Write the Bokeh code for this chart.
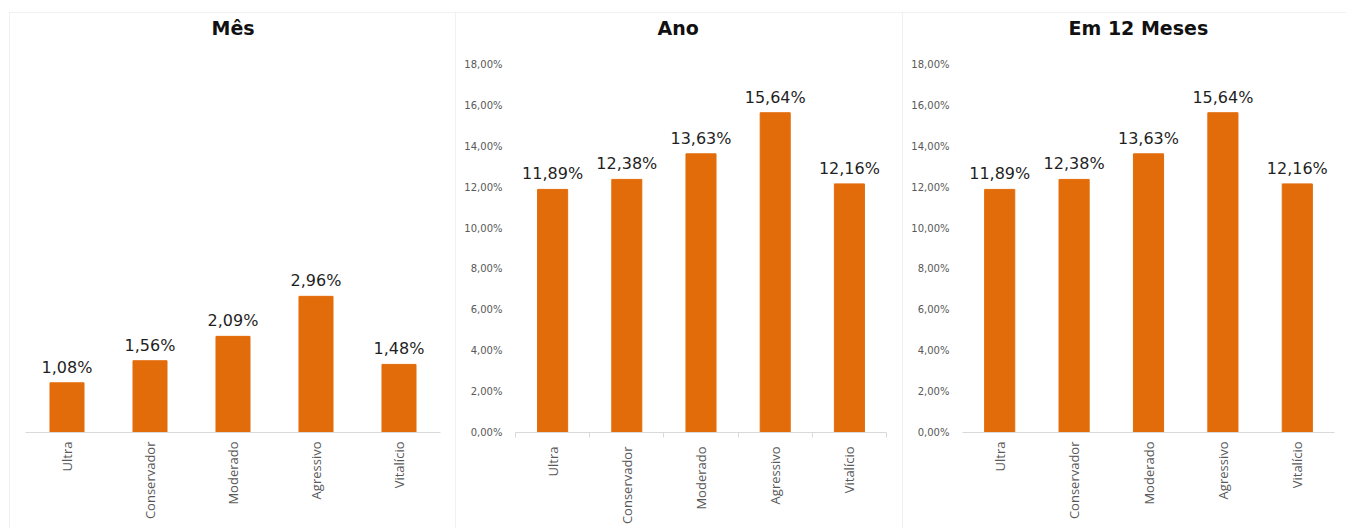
import math
from bokeh.plotting import figure
from bokeh.models import Range1d, FixedTicker, ColumnDataSource, Title, Spacer
from bokeh.layouts import row, column
from bokeh.core.properties import value
from bokeh.embed import file_html
from bokeh.resources import INLINE

categories = ["Ultra", "Conservador", "Moderado", "Agressivo", "Vitalício"]
mes_values = [1.08, 1.56, 2.09, 2.96, 1.48]
ano_values = [11.89, 12.38, 13.63, 15.64, 12.16]
doze_values = [11.89, 12.38, 13.63, 15.64, 12.16]
y_ticks = [0, 2, 4, 6, 8, 10, 12, 14, 16, 18]
y_tick_labels = ["0,00%", "2,00%", "4,00%", "6,00%", "8,00%", "10,00%",
                 "12,00%", "14,00%", "16,00%", "18,00%"]
titles = ["Mês", "Ano", "Em 12 Meses"]

ORANGE = "#E36C0A"
FONT = "Open Sans"


def fmt(v):
    return f"{v:.2f}".replace(".", ",") + "%"


def make(title, values, ymax, show_y, sep_ticks, width, left, right, bar_w, title_offset):
    p = figure(width=width, height=516, x_range=Range1d(0, len(categories)),
               y_range=Range1d(0, ymax), output_backend="svg", toolbar_location=None,
               title=None,
               min_border_left=left, min_border_right=right, min_border_top=52,
               min_border_bottom=96)
    xs = [i + 0.5 for i in range(len(categories))]
    src = ColumnDataSource(dict(x=xs, top=values, label=[fmt(v) for v in values]))
    p.vbar(x="x", top="top", width=bar_w, source=src, color=ORANGE)
    p.text(x="x", y="top", text="label", source=src, text_align="center",
           text_baseline="bottom", y_offset=-6, text_font=value("DejaVu Sans"),
           text_font_size="16px", text_color="#1f1f1f")

    # spacer title (nearest the frame) then the real title above it
    p.add_layout(Title(text=" ", text_font_size="1px", standoff=21), "above")
    p.add_layout(Title(text=title, align="left", offset=title_offset, standoff=4,
                       text_font="DejaVu Sans", text_font_size="19px",
                       text_font_style="bold", text_color="#111111"), "above")

    xa = p.xaxis[0]
    xa.ticker = FixedTicker(ticks=xs, minor_ticks=(list(range(len(categories) + 1)) if sep_ticks else []))
    xa.major_label_overrides = {x: c for x, c in zip(xs, categories)}
    xa.major_tick_out = 0
    xa.major_tick_in = 0
    xa.minor_tick_in = 0
    xa.minor_tick_out = 5 if sep_ticks else 0
    xa.minor_tick_line_color = "#d9d9d9"
    xa.axis_line_color = "#d9d9d9"
    xa.major_label_orientation = math.pi / 2
    xa.major_label_standoff = 9
    xa.major_label_text_font = FONT
    xa.major_label_text_font_size = "13px"
    xa.major_label_text_color = "#595959"

    ya = p.yaxis[0]
    if show_y:
        ya.ticker = FixedTicker(ticks=y_ticks, minor_ticks=[])
        ya.major_label_overrides = {t: l for t, l in zip(y_ticks, y_tick_labels)}
        ya.axis_line_color = None
        ya.major_tick_line_color = None
        ya.minor_tick_line_color = None
        ya.major_tick_out = 0
        ya.major_tick_in = 0
        ya.major_label_standoff = 13
        ya.major_label_text_font = "DejaVu Sans"
        ya.major_label_text_font_size = "10px"
        ya.major_label_text_color = "#595959"
    else:
        ya.visible = False

    p.xgrid.visible = False
    p.ygrid.visible = False
    p.outline_line_color = None
    p.styles = {"outline": "1px solid #ececea", "outline-offset": "-1px"}
    return p


p1 = make(titles[0], mes_values, 8, False, False, 446, 16, 15, 0.41, 186)
p2 = make(titles[1], ano_values, 18, True, True, 447, 60, 16, 0.405, 142)
p3 = make(titles[2], doze_values, 18, True, False, 444, 60, 12, 0.405, 106)

layout = column(Spacer(height=12),
                row(Spacer(width=9), p1, p2, p3, spacing=0),
                spacing=0)
open("out.html", "w").write(file_html(layout, INLINE))
